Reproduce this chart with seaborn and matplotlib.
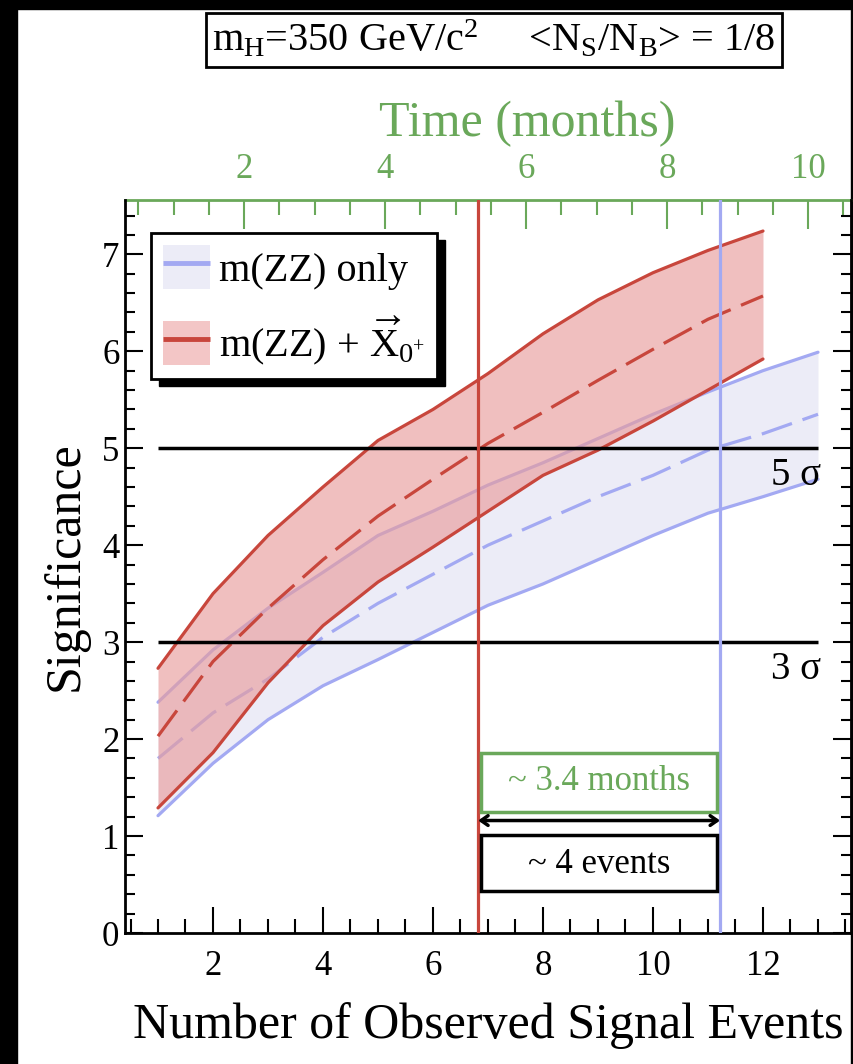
import matplotlib
matplotlib.use("Agg")
import matplotlib.pyplot as plt
from matplotlib.patches import Rectangle, Patch
from matplotlib.lines import Line2D
from matplotlib.ticker import MultipleLocator
import numpy as np
import pandas as pd
import seaborn as sns

# ---- data ----
events_blue = [1, 2, 3, 4, 5, 6, 7, 8, 9, 10, 11, 12, 13]
blue_upper = [2.38, 2.92, 3.35, 3.72, 4.10, 4.35, 4.62, 4.85, 5.10, 5.35, 5.58, 5.80, 5.99]
blue_center = [1.80, 2.27, 2.62, 3.05, 3.40, 3.70, 4.00, 4.25, 4.50, 4.72, 4.98, 5.15, 5.35]
blue_lower = [1.21, 1.75, 2.20, 2.55, 2.82, 3.10, 3.38, 3.60, 3.85, 4.10, 4.33, 4.50, 4.68]

events_red = [1, 2, 3, 4, 5, 6, 7, 8, 9, 10, 11, 12]
red_upper = [2.73, 3.50, 4.10, 4.60, 5.08, 5.40, 5.77, 6.18, 6.53, 6.81, 7.04, 7.24]
red_center = [2.03, 2.80, 3.35, 3.85, 4.30, 4.68, 5.05, 5.37, 5.70, 6.02, 6.33, 6.57]
red_lower = [1.29, 1.86, 2.58, 3.17, 3.62, 3.98, 4.35, 4.72, 4.98, 5.28, 5.60, 5.92]

sigma_levels = [5, 3]
sigma_labels = ["5 σ", "3 σ"]
discovery_red = 6.82    # events where red centre reaches 5 sigma
discovery_blue = 11.22  # events where blue centre reaches 5 sigma
MONTHS_PER_EVENT = 0.78
month_ticks = [2, 4, 6, 8, 10]
event_ticks = [2, 4, 6, 8, 10, 12]

RED = "#c8463c"
BLUE = "#a3a9f2"
GREEN = "#6aa85a"
RED_FILL = "#e99d9d"
BLUE_FILL = "#ececf7"

sns.set_style("ticks")
plt.rcParams["font.family"] = ["Liberation Serif", "DejaVu Serif"]
plt.rcParams["mathtext.fontset"] = "custom"
plt.rcParams["mathtext.rm"] = "Liberation Serif"
plt.rcParams["mathtext.it"] = "Liberation Serif:italic"
plt.rcParams["text.color"] = "black"
plt.rcParams["axes.labelcolor"] = "black"
plt.rcParams["xtick.color"] = "black"
plt.rcParams["ytick.color"] = "black"

blue_df = pd.DataFrame({"events": events_blue, "upper": blue_upper,
                        "center": blue_center, "lower": blue_lower})
red_df = pd.DataFrame({"events": events_red, "upper": red_upper,
                       "center": red_center, "lower": red_lower})

fig = plt.figure(figsize=(8.54, 10.64), dpi=100)
ax = fig.add_axes([125 / 854, 1 - 933 / 1064, 726 / 854, 733 / 1064])

dash = (0, (10, 3.5))

# blue band
ax.fill_between(blue_df["events"], blue_df["lower"], blue_df["upper"],
                color=BLUE_FILL, lw=0, zorder=1)
for col, ls in [("upper", "-"), ("lower", "-"), ("center", dash)]:
    sns.lineplot(data=blue_df, x="events", y=col, ax=ax, color=BLUE,
                 lw=2.3, linestyle=ls, zorder=2)

# red band drawn over
ax.fill_between(red_df["events"], red_df["lower"], red_df["upper"],
                color=RED_FILL, alpha=0.65, lw=0, zorder=3)
for col, ls in [("upper", "-"), ("lower", "-"), ("center", dash)]:
    sns.lineplot(data=red_df, x="events", y=col, ax=ax, color=RED,
                 lw=2.3, linestyle=ls, zorder=4)

# sigma lines
for lev, lab in zip(sigma_levels, sigma_labels):
    ax.hlines(lev, 1, 13, color="black", lw=2.5, zorder=5)
    ax.text(13.05, lev - 0.28, lab, ha="right", va="center", fontsize=28, zorder=6)

ax.axvline(discovery_red, color=RED, lw=2.3, zorder=5)
ax.axvline(discovery_blue, color=BLUE, lw=2.3, zorder=5)

# annotation boxes
ax.add_patch(Rectangle((6.88, 1.25), 11.17 - 6.88, 0.61, fill=False,
                       ec=GREEN, lw=2.5, zorder=6))
ax.text((6.88 + 11.17) / 2, 1.56, "~ 3.4 months", color=GREEN, fontsize=25,
        ha="center", va="center", zorder=6)
ax.add_patch(Rectangle((6.88, 0.43), 11.17 - 6.88, 0.58, fill=False,
                       ec="black", lw=2.5, zorder=6))
ax.text((6.88 + 11.17) / 2, 0.71, "~ 4 events", color="black", fontsize=25,
        ha="center", va="center", zorder=6)
ax.annotate("", xy=(discovery_red, 1.16), xytext=(discovery_blue, 1.16),
            arrowprops=dict(arrowstyle="<->,head_length=0.5,head_width=0.35",
                            lw=2.5, color="black", shrinkA=0, shrinkB=0), zorder=6)

# axes
ax.set_xlim(0.4, 13.6)
ax.set_ylim(0, 7.56)
ax.set_xticks(event_ticks)
ax.xaxis.set_minor_locator(MultipleLocator(0.5))
ax.yaxis.set_major_locator(MultipleLocator(1))
ax.yaxis.set_minor_locator(MultipleLocator(0.2))
ax.tick_params(axis="x", which="both", direction="in", top=False, bottom=True,
               labelsize=25, width=1.5, pad=12)
ax.tick_params(axis="x", which="major", length=19)
ax.tick_params(axis="x", which="minor", length=10)
ax.tick_params(axis="y", which="both", direction="in", left=True, right=True,
               labelsize=25, width=1.5, pad=4)
ax.tick_params(axis="y", which="major", length=13)
ax.tick_params(axis="y", which="minor", length=7)
for s in ["left", "bottom", "right"]:
    ax.spines[s].set_linewidth(2)
    ax.spines[s].set_color("black")
ax.spines["top"].set_visible(False)
ax.set_xlabel("Number of Observed Signal Events", fontsize=36, labelpad=14)
ax.set_ylabel("Significance", fontsize=36, labelpad=10)

sec = ax.secondary_xaxis("top", functions=(lambda e: e * MONTHS_PER_EVENT,
                                           lambda m: m / MONTHS_PER_EVENT))
sec.set_xticks(month_ticks)
sec.xaxis.set_minor_locator(MultipleLocator(0.5))
sec.tick_params(axis="x", which="both", direction="in", colors=GREEN,
                labelsize=25, width=1.5, pad=10)
sec.tick_params(axis="x", which="major", length=21)
sec.tick_params(axis="x", which="minor", length=11)
sec.spines["top"].set_color(GREEN)
sec.spines["top"].set_linewidth(2)
sec.set_xlabel("Time (months)", fontsize=36, color=GREEN, labelpad=12)
sec.xaxis.label.set_x(0.554)

# legend
handles = [
    (Patch(facecolor=BLUE_FILL, edgecolor="none"),
     Line2D([], [], color=BLUE, lw=3.5, linestyle=dash)),
    (Patch(facecolor="#f3c6c6", edgecolor="none"),
     Line2D([], [], color=RED, lw=3.5, linestyle=dash)),
]
labels = ["m(ZZ) only", r"m(ZZ) + $\overrightarrow{\mathrm{X}}_{0^{+}}$"]
leg = ax.legend(handles, labels, loc="upper left", bbox_to_anchor=(0.036, 0.955),
                borderaxespad=0, fontsize=29, frameon=True, fancybox=False,
                facecolor="white", framealpha=1, edgecolor="black",
                handlelength=1.17, handleheight=1.3,
                labelspacing=0.62, handletextpad=0.22, borderpad=0.3)
leg.get_frame().set_linewidth(2)
leg.set_zorder(10)

# title box
fig.text(494 / 854, 1 - 40 / 1064,
         r"m$_\mathrm{H}$=350 GeV/c$^2$     <N$_\mathrm{S}$/N$_\mathrm{B}$> = 1/8",
         fontsize=29, ha="center", va="center",
         bbox=dict(boxstyle="square,pad=0.15", fc="white", ec="black", lw=2))

# legend shadow
fig.canvas.draw()
bb = leg.get_window_extent().transformed(fig.transFigure.inverted())
fig.patches.append(Rectangle((bb.x0 + 8 / 854, bb.y0 - 7 / 1064), bb.width, bb.height,
                             transform=fig.transFigure, color="black", zorder=0.5))
ax.set_zorder(1)
ax.patch.set_alpha(0)

# black frame edges
for r in [(0, 1 - 9 / 1064, 1, 9 / 1064), (0, 0, 17 / 854, 1), (851 / 854, 0, 3 / 854, 1)]:
    fig.patches.append(Rectangle(r[:2], r[2], r[3], transform=fig.transFigure,
                                 color="black", zorder=0.4))

fig.savefig("out.png", dpi=100, facecolor="white")
